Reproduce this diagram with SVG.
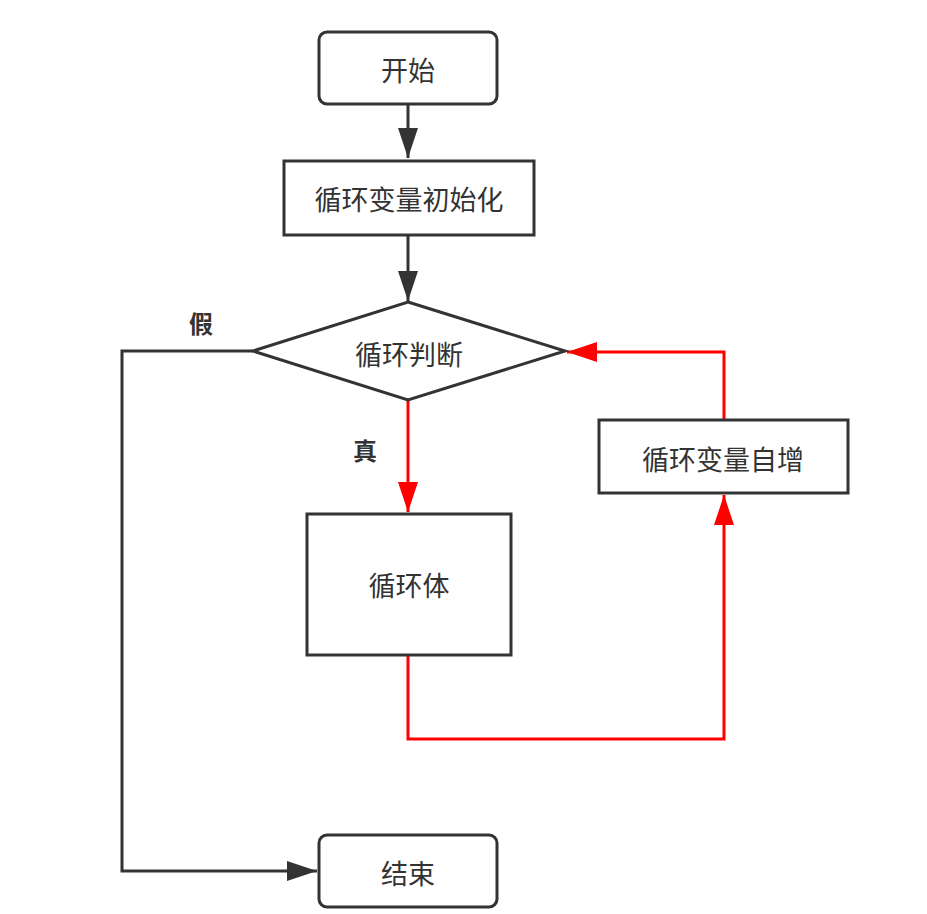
<svg xmlns="http://www.w3.org/2000/svg" width="927" height="914" viewBox="0 0 927 914">
<defs>
<style>
.box{fill:#fff;stroke:#333;stroke-width:3}
.t{font-family:"Noto Sans CJK SC","Liberation Sans",sans-serif;font-size:27px;fill:#333;text-anchor:middle;dominant-baseline:central}
.b{font-weight:bold;font-size:24px}
.k{fill:none;stroke:#333;stroke-width:3}
.r{fill:none;stroke:#ff0000;stroke-width:3}
</style>
<marker id="ak" viewBox="0 0 30 20" refX="30" refY="10" markerWidth="30" markerHeight="20" markerUnits="userSpaceOnUse" orient="auto"><path d="M0,0 L30,10 L0,20 Z" fill="#333"/></marker>
<marker id="ar" viewBox="0 0 30 20" refX="30" refY="10" markerWidth="30" markerHeight="20" markerUnits="userSpaceOnUse" orient="auto"><path d="M0,0 L30,10 L0,20 Z" fill="#ff0000"/></marker>
</defs>
<rect width="927" height="914" fill="#fff"/>
<g id="connectors">
<path class="k" d="M408,104 L408,158" marker-end="url(#ak)"/>
<path class="k" d="M408,235 L408,301" marker-end="url(#ak)"/>
<path class="k" d="M253,351 L122,351 L122,871 L317,871" marker-end="url(#ak)"/>
<path class="r" d="M408,400 L408,512" marker-end="url(#ar)"/>
<path class="r" d="M408,655 L408,739 L724,739 L724,495" marker-end="url(#ar)"/>
<path class="r" d="M724,420 L724,352 L567,352" marker-end="url(#ar)"/>
</g>
<g id="start"><rect class="box" x="319" y="32" width="178" height="72" rx="8"/><text class="t" x="408" y="69">开始</text></g>
<g id="init"><rect class="box" x="284" y="161" width="250" height="74"/><text class="t" x="409" y="198">循环变量初始化</text></g>
<g id="cond"><polygon class="box" points="408,302 565,351 408,400 253,351"/><text class="t" x="409" y="353">循环判断</text></g>
<g id="body"><rect class="box" x="307" y="514" width="204" height="141"/><text class="t" x="409" y="584">循环体</text></g>
<g id="incr"><rect class="box" x="599" y="420" width="249" height="73"/><text class="t" x="723" y="458">循环变量自增</text></g>
<g id="end"><rect class="box" x="319" y="835" width="178" height="72" rx="8"/><text class="t" x="408" y="872">结束</text></g>
<text class="t b" x="201" y="322">假</text>
<text class="t b" x="365" y="449">真</text>
</svg>
